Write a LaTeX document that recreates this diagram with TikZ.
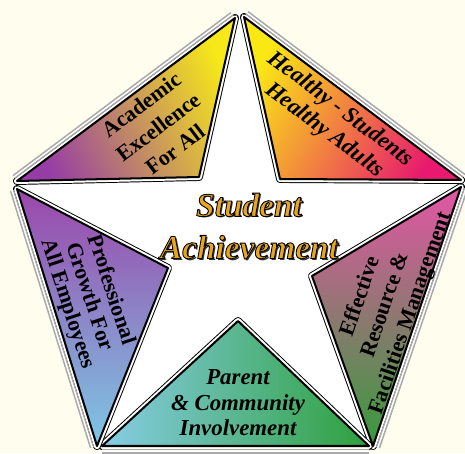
\documentclass[tikz,border=0pt]{standalone}
\usepackage{fontspec}
\setmainfont{Liberation Serif}
\usetikzlibrary{calc}

\definecolor{bgcream}{RGB}{255,253,238}
\definecolor{rimgray}{RGB}{170,170,170}
\definecolor{acpurple}{RGB}{150,60,165}
\definecolor{acmid}{RGB}{215,145,90}
\definecolor{acyellow}{RGB}{246,232,25}
\definecolor{heyellow}{RGB}{250,232,20}
\definecolor{heorange}{RGB}{246,150,45}
\definecolor{hepink}{RGB}{232,25,110}
\definecolor{efpink}{RGB}{228,85,165}
\definecolor{efbrown}{RGB}{150,115,95}
\definecolor{efgreen}{RGB}{55,155,60}
\definecolor{pablue}{RGB}{135,205,230}
\definecolor{pateal}{RGB}{95,185,160}
\definecolor{pagreen}{RGB}{45,160,60}
\definecolor{prpurple}{RGB}{155,70,170}
\definecolor{prblue}{RGB}{125,200,230}
\definecolor{titlegold}{RGB}{232,165,30}

% gold text with a thin black outline
\newcommand{\outlined}[1]{\special{pdf:literal direct 0 0 0 RG 0.5 w 2 Tr}#1\special{pdf:literal direct 0 Tr}}

\tikzset{
  ringout/.style={black, line width=4.5pt, line join=round},
  ringin/.style={white, line width=3.4pt, line join=round},
  tri/.style={black, line width=1.15pt, line join=round},
  rim/.style={rimgray, line width=0.85pt},
  lab/.style={font=\bfseries\fontsize{12.5}{16}\selectfont, align=center},
  labit/.style={font=\bfseries\itshape\fontsize{13}{15}\selectfont, align=center},
  title/.style={font=\bfseries\itshape\fontsize{19}{24}\selectfont, align=center}
}

\begin{document}
\begin{tikzpicture}[x=0.02cm, y=0.02cm]
\useasboundingbox (0,0) rectangle (465,453);
\fill[bgcream] (0,0) rectangle (465,453);

% triangle corners
\coordinate (acL) at (17,272); \coordinate (acT) at (235,435); \coordinate (acI) at (199,276); %academic
\coordinate (heT) at (244,436); \coordinate (heR) at (461,273); \coordinate (heI) at (280,274); %healthy
\coordinate (efR) at (461,266); \coordinate (efI) at (312,177); \coordinate (efB) at (373,7);  %effective
\coordinate (paI) at (238,132); \coordinate (paL) at (102,7);  \coordinate (paR) at (369,7);  %parent
\coordinate (prL) at (17,264);  \coordinate (prI) at (168,185); \coordinate (prB) at (97,7);   %professional

% white star
\fill[white] (240,449) -- (196,280) -- (7,268) -- (165,183) -- (96,1) -- (238,128)
  -- (375,1) -- (316,174) -- (467,270) -- (284,280) -- cycle;

% the five triangles
\foreach \a/\b/\c in {acL/acT/acI, heT/heR/heI, efR/efB/efI, paR/paL/paI, prB/prL/prI}{
  \draw[ringout] (\a) -- (\b) -- (\c) -- cycle;
  \draw[ringin] (\a) -- (\b) -- (\c) -- cycle;
}
\shade[bottom color=acpurple, middle color=acmid, top color=acyellow, shading angle=-65] (acL) -- (acT) -- (acI) -- cycle;
\shade[bottom color=hepink, middle color=heorange, top color=heyellow, shading angle=60] (heT) -- (heR) -- (heI) -- cycle;
\shade[top color=efpink, middle color=efbrown, bottom color=efgreen] (efR) -- (efB) -- (efI) -- cycle;
\shade[left color=pablue, middle color=pateal, right color=pagreen] (paL) -- (paR) -- (paI) -- cycle;
\shade[top color=prpurple, bottom color=prblue] (prL) -- (prB) -- (prI) -- cycle;
\foreach \a/\b/\c in {acL/acT/acI, heT/heR/heI, efR/efB/efI, paR/paL/paI, prB/prL/prI}
  \draw[tri] (\a) -- (\b) -- (\c) -- cycle;

% gray rims on the pentagon sides
\foreach \a/\b in {acL/acT, heT/heR, efR/efB, paR/paL, prB/prL}{
  \draw[rim] ($(\a)!2.13pt!90:(\b)$) -- ($(\b)!2.13pt!-90:(\a)$);
  \draw[white, line width=0.85pt] ($(\a)!2.99pt!90:(\b)$) -- ($(\b)!2.99pt!-90:(\a)$);
  \draw[rim] ($(\a)!3.84pt!90:(\b)$) -- ($(\b)!3.84pt!-90:(\a)$);
}

% labels
\node[lab, rotate=37] (acad) at (158,326) {Academic\\Excellence\\For All};
\node[labit, rotate=-37] (heal) at (332,333) {Healthy - Students\\Healthy Adults};
\node[lab, rotate=71, font=\bfseries\fontsize{12.5}{15}\selectfont] (effe) at (386,148) {Effective\\Resource \&\\Facilities Management};
\node[lab, rotate=-72, font=\bfseries\fontsize{12.5}{13}\selectfont] (prof) at (89,156) {Professional\\Growth For\\All Employees};
\node[labit, font=\bfseries\itshape\fontsize{13}{14.5}\selectfont] (pare) at (238,50) {Parent\\\& Community\\Involvement};

% title
\node[title, text=black!80] (stush) at (250.5,225.5) {Student\\Achievement};
\node[title, text=titlegold] (stu) at (249,227) {\outlined{Student}\\\outlined{Achievement}};
\end{tikzpicture}
\end{document}
